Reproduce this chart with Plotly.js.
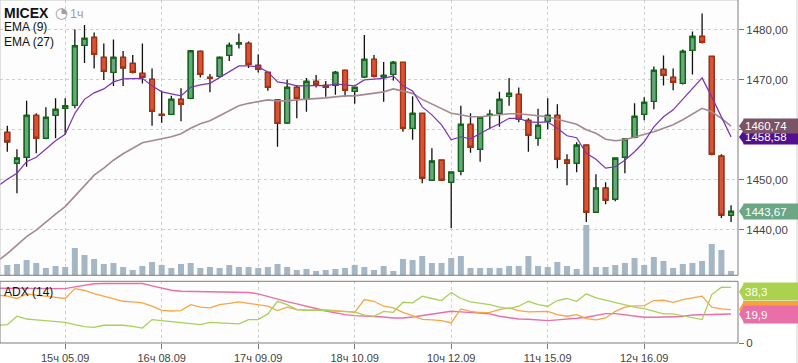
<!DOCTYPE html>
<html><head><meta charset="utf-8">
<script src="https://cdn.plot.ly/plotly-3.0.1.min.js"></script>
<style>html,body{margin:0;padding:0;background:#fff;}#chart{width:798px;height:363px;}</style>
</head><body><div id="chart"></div>
<script>
// ---- data ----
const tickIdx = [6,16,26,36,46,56,66];
const tickLabels = ['15ч 05.09','16ч 08.09','17ч 09.09','18ч 10.09','10ч 12.09','11ч 15.09','12ч 16.09'];
const priceTicks = [1440,1450,1460,1470,1480];

const openP = [1459.5,1453.3,1454.5,1462.9,1458.3,1462.9,1464.3,1464.9,1476.9,1478.5,
1474.5,1471.5,1474.5,1473.3,1471.3,1470.1,1463.1,1463.1,1466.1,1466.3,
1475.7,1470.5,1470.7,1474.9,1477.2,1477.3,1472.9,1471.5,1466.0,1461.4,
1468.5,1466.1,1469.7,1468.9,1468.9,1471.9,1467.7,1470.6,1474.1,1470.6,
1471.1,1473.5,1460.3,1463.3,1449.9,1453.9,1449.5,1451.7,1461.1,1456.1,
1462.9,1463.3,1466.7,1467.1,1461.9,1458.3,1461.7,1462.9,1453.9,1453.3,
1456.9,1443.5,1448.3,1446.1,1454.5,1458.5,1463.1,1465.7,1472.1,1470.5,
1469.3,1475.9,1478.7,1474.7,1454.7,1442.9];
const highP = [1460.8,1456.1,1465.8,1463.3,1464.5,1466.3,1466.3,1480.1,1481.0,1479.5,
1477.3,1478.1,1475.8,1475.0,1477.3,1472.3,1467.8,1466.8,1468.3,1476.0,
1475.9,1471.2,1474.7,1477.5,1479.3,1477.7,1475.1,1471.5,1466.0,1470.1,
1469.0,1470.4,1471.0,1469.8,1471.8,1472.1,1468.5,1479.0,1475.0,1473.6,
1473.8,1473.5,1466.7,1463.3,1456.3,1453.9,1451.5,1464.8,1463.3,1462.5,
1464.0,1467.6,1470.4,1468.5,1462.3,1464.2,1466.3,1465.1,1455.1,1457.5,
1456.9,1451.1,1449.5,1454.3,1458.1,1465.3,1466.5,1472.7,1474.9,1472.3,
1476.1,1479.7,1483.3,1474.7,1455.1,1444.9];
const lowP = [1455.6,1447.3,1452.6,1455.3,1458.1,1458.3,1459.0,1464.3,1473.4,1472.3,
1470.0,1468.8,1468.8,1471.3,1469.3,1460.8,1461.4,1463.0,1461.7,1466.1,
1470.5,1467.5,1470.5,1473.8,1476.3,1472.4,1471.5,1467.8,1456.6,1461.2,
1462.3,1463.6,1468.5,1466.6,1467.0,1466.6,1465.2,1470.4,1470.5,1465.6,
1469.9,1459.6,1458.0,1449.3,1449.9,1449.9,1440.3,1450.9,1455.4,1453.6,
1460.1,1460.6,1464.8,1461.5,1455.6,1456.8,1460.1,1452.3,1448.9,1451.5,
1441.5,1443.3,1445.1,1445.7,1451.3,1458.3,1461.9,1464.1,1468.9,1467.9,
1469.1,1471.1,1477.3,1454.9,1442.3,1441.5];
const closeP = [1457.6,1454.3,1462.9,1458.3,1462.5,1464.1,1464.8,1476.8,1478.3,1475.1,
1471.7,1474.5,1472.4,1471.5,1470.5,1463.7,1462.9,1466.1,1465.1,1475.8,
1471.1,1470.3,1474.5,1476.9,1477.4,1473.1,1472.1,1468.5,1461.3,1468.5,
1466.3,1469.7,1469.1,1468.5,1471.5,1467.9,1468.5,1474.1,1470.7,1470.9,
1473.5,1460.3,1463.3,1450.3,1453.7,1449.9,1451.5,1461.1,1456.5,1462.5,
1463.1,1466.1,1467.3,1462.1,1458.9,1460.9,1462.9,1454.1,1453.3,1456.9,
1443.5,1448.3,1445.9,1454.3,1458.1,1462.7,1465.5,1471.9,1470.9,1469.5,
1475.7,1478.7,1477.5,1455.1,1442.9,1443.67];
const volume = [103,113,153,123,73,93,83,273,203,163,
113,123,83,53,93,133,103,73,113,123,
73,83,73,103,83,83,73,83,113,83,
53,63,43,53,63,73,103,83,53,93,
43,163,153,193,123,123,173,193,73,73,
73,73,93,93,193,93,83,133,93,63,
503,83,83,103,123,173,103,183,143,73,
113,123,143,313,253,43];

// indicator series start one bar earlier (bar -1, just off the left edge)
const ema9 = [1448.7,
1450.1,1451.3,1453.6,1454.5,1456.2,1457.8,1459.1,1463.3,1466.1,1467.4,
1468.2,1469.6,1470.2,1470.3,1470.3,1468.8,1467.6,1467.2,1466.8,1468.5,
1469.0,1469.3,1470.5,1471.6,1472.8,1472.8,1472.6,1471.6,1469.6,1469.3,
1468.8,1468.8,1468.9,1468.8,1469.2,1469.0,1468.8,1470.0,1470.2,1470.3,
1470.8,1468.8,1467.8,1464.6,1463.0,1461.0,1458.0,1458.6,1458.2,1459.3,
1460.3,1461.2,1462.3,1462.3,1461.6,1461.5,1461.6,1460.3,1458.8,1458.4,
1455.3,1454.1,1452.3,1452.6,1453.9,1455.6,1457.6,1460.6,1462.6,1464.0,
1466.1,1468.3,1470.4,1466.6,1462.6,1458.58];
const ema27 = [1433.7,
1435.2,1436.9,1438.6,1439.9,1441.6,1443.1,1444.6,1446.7,1448.9,1450.9,
1452.3,1453.9,1455.2,1456.3,1457.4,1457.8,1458.2,1458.6,1459.2,1460.3,
1461.2,1461.8,1462.8,1463.8,1464.8,1465.3,1465.6,1466.0,1465.8,1465.8,
1466.0,1466.1,1466.2,1466.4,1466.6,1466.8,1466.8,1467.1,1467.3,1467.6,
1468.2,1467.8,1467.3,1466.1,1465.2,1464.3,1463.3,1463.0,1462.6,1462.6,
1462.8,1463.0,1463.2,1463.2,1463.0,1462.8,1462.6,1462.1,1461.6,1461.1,
1460.0,1459.3,1458.1,1457.8,1458.0,1458.5,1459.0,1459.6,1460.3,1461.0,
1462.0,1463.1,1464.3,1463.6,1462.3,1460.74];
const adx = [37.7,
37.7,37.7,37.7,37.7,37.7,37.4,37.4,38.6,39.7,40.7,
40.9,40.9,40.9,40.9,40.9,39.3,37.9,36.3,35.6,35.4,
35.2,35.2,34.9,34.9,34.7,34.7,33.8,31.9,30.3,28.5,
26.9,25.5,23.7,22.0,20.7,19.5,18.8,18.6,18.4,17.9,
17.2,17.2,17.9,18.8,19.8,20.9,21.8,21.4,21.1,20.7,
20.0,18.4,17.2,16.5,16.3,15.9,15.4,15.9,16.3,17.0,
17.7,19.1,20.2,20.2,19.5,18.6,17.7,17.7,17.7,17.9,
18.2,19.3,19.5,19.5,19.8,19.9];
const minusDI = [12.2,
12.6,18.4,16.5,15.9,15.4,14.7,14.2,12.6,11.3,10.8,
12.2,12.2,12.2,11.5,10.3,16.1,15.4,14.9,14.0,13.3,
12.6,14.2,13.8,13.3,13.1,16.1,16.1,20.0,28.7,26.4,
23.0,22.5,22.7,22.3,21.8,21.6,21.4,19.1,18.4,21.8,
21.1,28.0,27.6,32.2,30.6,29.2,34.7,30.6,28.3,27.6,
26.4,24.6,23.7,25.3,28.7,26.4,25.3,29.2,30.6,28.7,
33.8,31.0,29.4,28.0,26.4,24.6,23.7,21.8,20.0,20.0,
18.8,17.2,16.1,33.3,38.4,38.3];
const plusDI = [32.9,
32.2,30.6,33.8,32.9,32.2,31.2,30.6,37.4,36.1,34.0,
32.2,30.3,28.7,28.3,27.6,25.3,22.5,22.0,22.3,26.4,
24.6,24.1,26.4,27.3,28.3,27.3,26.4,25.3,22.3,24.6,
23.0,22.7,22.5,22.7,22.5,21.8,21.1,29.9,28.7,25.3,
24.1,21.1,18.8,16.3,15.9,15.4,13.8,23.4,21.8,20.9,
21.1,23.0,24.1,22.3,21.4,21.8,21.8,19.5,18.4,19.5,
16.8,15.9,17.2,21.8,24.6,25.5,25.7,29.2,29.4,28.0,
29.9,31.0,32.2,24.6,23.4,23.0];

// ---- geometry ----
const W=798,H=363,ML=0,MR=60,MT=0,MB=20;
const PW=W-ML-MR, PH=H-MT-MB;
const px = p => (p-ML)/PW;
const py = p => (H-MB-p)/PH;
const mainDom=[py(275.3),1], adxDom=[0,py(281.3)];
const mainRange=[1430.84,1486.01], adxRange=[0,42.43], volRange=[0,2753];
const pxPerPrice = (275.3)/(mainRange[1]-mainRange[0]);
const pxPerAdx = (343-281.3)/(adxRange[1]-adxRange[0]);

const n = closeP.length;
const xc = closeP.map((_,i)=>i);
const xl = ema9.map((_,i)=>i-1);
const bodyHi = openP.map((o,i)=>Math.max(o,closeP[i]));
const bodyLo = openP.map((o,i)=>Math.min(o,closeP[i]));

const GREEN_FILL='#67a67f', GREEN_LINE='#0d6b12', RED_FILL='#d9533b', RED_LINE='#a8300a';
const grid='#c9d3c9', axisLine='#7c7c7c', tickCol='#444';
const FONT='Liberation Sans, Arial, sans-serif';

const traces = [
 {type:'bar', x:xc, y:volume, yaxis:'y3', marker:{color:'#a5b6c4', line:{width:0}}, width:0.62, hoverinfo:'skip'},
 {type:'candlestick', x:xc, open:openP, high:highP, low:lowP, close:closeP, whiskerwidth:0,
  increasing:{line:{color:'#111', width:1.3}, fillcolor:'#111'},
  decreasing:{line:{color:'#111', width:1.3}, fillcolor:'#111'}, hoverinfo:'skip'},
 {type:'candlestick', x:xc, open:openP, high:bodyHi, low:bodyLo, close:closeP, whiskerwidth:0,
  increasing:{line:{color:GREEN_LINE, width:1.3}, fillcolor:GREEN_FILL},
  decreasing:{line:{color:RED_LINE, width:1.3}, fillcolor:RED_FILL}, hoverinfo:'skip'},
 {type:'scatter', mode:'lines', x:xl, y:ema27, line:{color:'#a48993', width:1.6}, hoverinfo:'skip'},
 {type:'scatter', mode:'lines', x:xl, y:ema9, line:{color:'#7a35b2', width:1.2}, hoverinfo:'skip'},
 {type:'scatter', mode:'lines', x:xl, y:adx, yaxis:'y2', line:{color:'#ea6fa6', width:1.4}, hoverinfo:'skip'},
 {type:'scatter', mode:'lines', x:xl, y:plusDI, yaxis:'y2', line:{color:'#f9a545', width:1.3}, hoverinfo:'skip'},
 {type:'scatter', mode:'lines', x:xl, y:minusDI, yaxis:'y2', line:{color:'#a9d15a', width:1.3}, hoverinfo:'skip'}
];

const fmt = (v,d) => v.toFixed(d).replace('.', ',');
const shapes = [
 {type:'line', xref:'paper', yref:'paper', x0:0, x1:1, y0:1, y1:1, line:{color:'#c4c4c4', width:1}},
 {type:'line', xref:'paper', yref:'paper', x0:0, x1:0, y0:mainDom[0], y1:1, line:{color:'#c4c4c4', width:1}},
 {type:'line', xref:'paper', yref:'paper', x0:1, x1:1, y0:mainDom[0], y1:1, line:{color:axisLine, width:1}},
 {type:'line', xref:'paper', yref:'paper', x0:0, x1:1, y0:mainDom[0], y1:mainDom[0], line:{color:axisLine, width:1}},
 {type:'rect', xref:'paper', yref:'paper', x0:0, x1:1, y0:adxDom[0], y1:adxDom[1], line:{color:axisLine, width:1}},
 {type:'line', xref:'paper', yref:'paper', x0:px(797), x1:px(797), y0:py(363), y1:1, line:{color:'#d0d0d0', width:1}}
];
const annotations = [];
// value tag on the right axis; withText=false draws only the coloured tag (it sits under another tag)
function tag(value, yref, perPx, bg, text, hPx, shiftPx, withText){
  const c = value + (shiftPx||0)/perPx;
  const h = (hPx/2)/perPx;
  shapes.push({type:'path', xref:'paper', yref:yref, fillcolor:bg, line:{width:0},
    path:`M ${px(744)} ${c+h} L ${px(739)} ${c} L ${px(744)} ${c-h} Z`});
  if (withText) {
    annotations.push({xref:'paper', yref:yref, x:px(743), y:c, xanchor:'left', yanchor:'middle',
      text:text, showarrow:false, bgcolor:bg, width:52, height:hPx-2, borderpad:1, align:'left',
      font:{family:FONT, size:11.5, color:'#fff'}});
  } else {
    shapes.push({type:'rect', xref:'paper', yref:yref, fillcolor:bg, line:{width:0},
      x0:px(743), x1:px(798), y0:c-h, y1:c+h});
  }
}
tag(ema9[ema9.length-1], 'y', pxPerPrice, '#520f8f', fmt(ema9[ema9.length-1],2), 14, 0, true);
tag(ema27[ema27.length-1], 'y', pxPerPrice, '#7a5366', fmt(ema27[ema27.length-1],2), 14, 0, true);
tag(closeP[n-1], 'y', pxPerPrice, '#6ba687', fmt(closeP[n-1],2), 15, 0, true);
tag(minusDI[minusDI.length-1], 'y2', pxPerAdx, '#abd24f', fmt(minusDI[minusDI.length-1],1), 17, -4.5, true);
tag(plusDI[plusDI.length-1], 'y2', pxPerAdx, '#f9a23b', fmt(plusDI[plusDI.length-1],1), 17, 0, false);
tag(adx[adx.length-1], 'y2', pxPerAdx, '#ea6fa8', fmt(adx[adx.length-1],1), 17, 0, true);

const txt = (t,x,y,size,color,bold,family) => annotations.push({xref:'paper', yref:'paper', x:px(x), y:py(y),
  xanchor:'left', yanchor:'middle', showarrow:false, borderpad:0, text: bold?('<b>'+t+'</b>'):t,
  font:{family:family||FONT, size:size, color:color}});
txt('MICEX', 3, 13, 14, '#111', true);
txt('◔', 54, 12.5, 15, '#a0a0a0', false, 'DejaVu Sans');
txt('1ч', 69, 14, 12.5, '#a0a0a0', false);
txt('EMA (9)', 2.5, 27, 12, '#111', false);
txt('EMA (27)', 2.5, 42.5, 12, '#111', false);
txt('ADX (14)', 2.5, 292, 12, '#111', false);

const layout = {
  width:W, height:H, margin:{l:ML, r:MR, t:MT, b:MB, pad:0},
  paper_bgcolor:'#ffffff', plot_bgcolor:'#fdfdfd', showlegend:false,
  separators:', ', font:{family:FONT, size:11, color:tickCol},
  xaxis:{range:[-0.757,75.72], anchor:'y2', tickvals:tickIdx, ticktext:tickLabels,
    showgrid:true, gridcolor:grid, griddash:'dot', gridwidth:1, zeroline:false, showline:false,
    ticks:'outside', ticklen:5, tickcolor:'#777', tickfont:{size:11, color:tickCol},
    rangeslider:{visible:false}, fixedrange:true},
  yaxis:{domain:mainDom, range:mainRange, side:'right', anchor:'x', tickvals:priceTicks, tickformat:'.2f',
    showgrid:true, gridcolor:grid, griddash:'dot', zeroline:false, showline:false,
    ticks:'outside', ticklen:5, tickcolor:'#777', tickfont:{size:11.5, color:tickCol}, fixedrange:true},
  yaxis3:{overlaying:'y', range:volRange, visible:false, fixedrange:true},
  yaxis2:{domain:adxDom, range:adxRange, side:'right', anchor:'x', tickvals:[0], tickformat:'d',
    showgrid:false, zeroline:false, showline:false, ticks:'outside', ticklen:5, tickcolor:'#777',
    tickfont:{size:11.5, color:tickCol}, fixedrange:true},
  shapes:shapes, annotations:annotations
};
Plotly.newPlot('chart', traces, layout, {staticPlot:true, displayModeBar:false});
</script></body></html>
